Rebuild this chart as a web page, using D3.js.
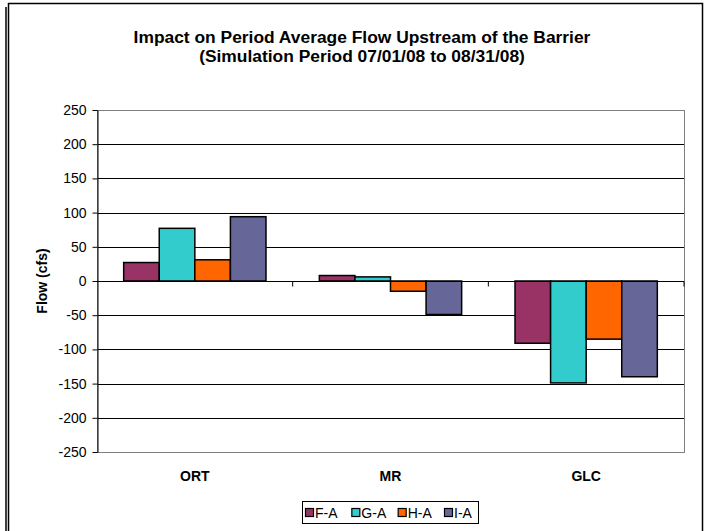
<!DOCTYPE html>
<html>
<head>
<meta charset="utf-8">
<script src="https://d3js.org/d3.v7.min.js"></script>
<style>
  body { margin: 0; background: #fff; }
  text { font-family: "Liberation Sans", Arial, sans-serif; }
</style>
</head>
<body>
<div id="chart"></div>
<script>
// Chart data
const categories = ['ORT', 'MR', 'GLC'];
const seriesNames = ['F-A', 'G-A', 'H-A', 'I-A'];
const seriesColors = ['#993366', '#33CCCC', '#FF6600', '#666699'];
const valuesFA = [27, 8, -91];
const valuesGA = [77, 6, -149];
const valuesHA = [31, -15, -85];
const valuesIA = [94, -49, -140];
const yTicks = [250, 200, 150, 100, 50, 0, -50, -100, -150, -200, -250];

const seriesValues = [valuesFA, valuesGA, valuesHA, valuesIA];

const width = 707, height = 531;
const plot = { left: 97, right: 684, top: 110, bottom: 452 };

const svg = d3.select('#chart')
  .append('svg')
  .attr('width', width)
  .attr('height', height);

// Frame around the chart
svg.append('line')
  .attr('x1', 6).attr('y1', 7).attr('x2', 6).attr('y2', height)
  .style('stroke', '#000').style('stroke-width', 1.5);
svg.append('rect')
  .attr('x', 8.5).attr('y', 3.5)
  .attr('width', 694).attr('height', height + 10)
  .style('fill', 'none').style('stroke', '#000').style('stroke-width', 1.5);

// Title
const title = svg.append('text')
  .attr('text-anchor', 'middle')
  .style('font-size', '17.4px')
  .style('font-weight', 'bold')
  .style('fill', '#000');
title.append('tspan').attr('x', 362).attr('y', 43)
  .text('Impact on Period Average Flow Upstream of the Barrier');
title.append('tspan').attr('x', 362).attr('y', 62)
  .text('(Simulation Period 07/01/08 to 08/31/08)');

// Scales
const x = d3.scaleBand()
  .domain(categories)
  .range([plot.left, plot.right]);

const x1 = d3.scaleBand()
  .domain(seriesNames)
  .range([0, x.bandwidth()])
  .paddingInner(0)
  .paddingOuter(0.75);

const y = d3.scaleLinear()
  .domain([-250, 250])
  .range([plot.bottom, plot.top]);

// Gridlines
svg.append('g')
  .selectAll('line')
  .data(yTicks.filter(d => d !== 250 && d !== -250))
  .enter()
  .append('line')
  .attr('x1', plot.left).attr('x2', plot.right)
  .attr('y1', d => Math.round(y(d)) + 0.5)
  .attr('y2', d => Math.round(y(d)) + 0.5)
  .style('stroke', '#000')
  .style('stroke-width', 1);

// Plot area border (gray)
svg.append('rect')
  .attr('x', plot.left + 0.5).attr('y', Math.round(plot.top) + 0.5)
  .attr('width', plot.right - plot.left)
  .attr('height', plot.bottom - plot.top)
  .style('fill', 'none')
  .style('stroke', '#808080')
  .style('stroke-width', 1);

// Bars
const groups = svg.append('g')
  .selectAll('g')
  .data(categories)
  .enter()
  .append('g')
  .attr('transform', d => `translate(${x(d)},0)`);

groups.selectAll('rect')
  .data((c, ci) => seriesNames.map((s, si) => ({ s, v: seriesValues[si][ci], color: seriesColors[si] })))
  .enter()
  .append('rect')
  .attr('x', d => x1(d.s))
  .attr('width', x1.bandwidth())
  .attr('y', d => y(Math.max(0, d.v)))
  .attr('height', d => Math.abs(y(d.v) - y(0)))
  .style('fill', d => d.color)
  .style('stroke', '#000')
  .style('stroke-width', 1.5);

// Y axis (plain hyphen for negatives, like the original)
const yAxis = svg.append('g')
  .attr('transform', `translate(${plot.left + 0.5},0)`)
  .call(d3.axisLeft(y).tickValues(yTicks).tickFormat(d => String(d))
    .tickSize(5).tickSizeOuter(0).tickPadding(6));
yAxis.select('.domain').style('stroke', '#000');
yAxis.selectAll('line').style('stroke', '#000');
yAxis.selectAll('text')
  .style('font-size', '14px')
  .style('font-family', '"Liberation Sans", Arial, sans-serif')
  .style('fill', '#000');

// Zero line (category axis) with tick marks at category boundaries
const zeroY = Math.round(y(0)) + 0.5;
svg.append('line')
  .attr('x1', plot.left).attr('x2', plot.right)
  .attr('y1', zeroY).attr('y2', zeroY)
  .style('stroke', '#000');
svg.append('g')
  .selectAll('line')
  .data(categories.slice(1).concat(['end']))
  .enter()
  .append('line')
  .attr('x1', d => d === 'end' ? plot.right : x(d))
  .attr('x2', d => d === 'end' ? plot.right : x(d))
  .attr('y1', zeroY).attr('y2', zeroY + 5)
  .style('stroke', '#000');

// Category labels
svg.append('g')
  .selectAll('text')
  .data(categories)
  .enter()
  .append('text')
  .attr('x', d => x(d) + x.bandwidth() / 2)
  .attr('y', 481)
  .attr('text-anchor', 'middle')
  .style('font-size', '14px')
  .style('font-weight', 'bold')
  .text(d => d);

// Y axis title
svg.append('text')
  .attr('transform', `translate(47,${y(0)}) rotate(-90)`)
  .attr('text-anchor', 'middle')
  .style('font-size', '14px')
  .style('font-weight', 'bold')
  .text('Flow (cfs)');

// Legend
const legend = svg.append('g');
legend.append('rect')
  .attr('x', 302.5).attr('y', 501.5)
  .attr('width', 176).attr('height', 22)
  .style('fill', '#fff')
  .style('stroke', '#000');

const legendX = d3.scalePoint()
  .domain(seriesNames)
  .range([305, 444]);

const items = legend.selectAll('.item')
  .data(seriesNames)
  .enter()
  .append('g')
  .attr('class', 'item')
  .attr('transform', d => `translate(${legendX(d)},508)`);

items.append('rect')
  .attr('x', 0.5).attr('y', 0.5)
  .attr('width', 8).attr('height', 8)
  .style('fill', (d, i) => seriesColors[i])
  .style('stroke', '#000')
  .style('stroke-width', 1.2);

items.append('text')
  .attr('x', 10)
  .attr('y', 10)
  .style('font-size', '14px')
  .text(d => d);
</script>
</body>
</html>
